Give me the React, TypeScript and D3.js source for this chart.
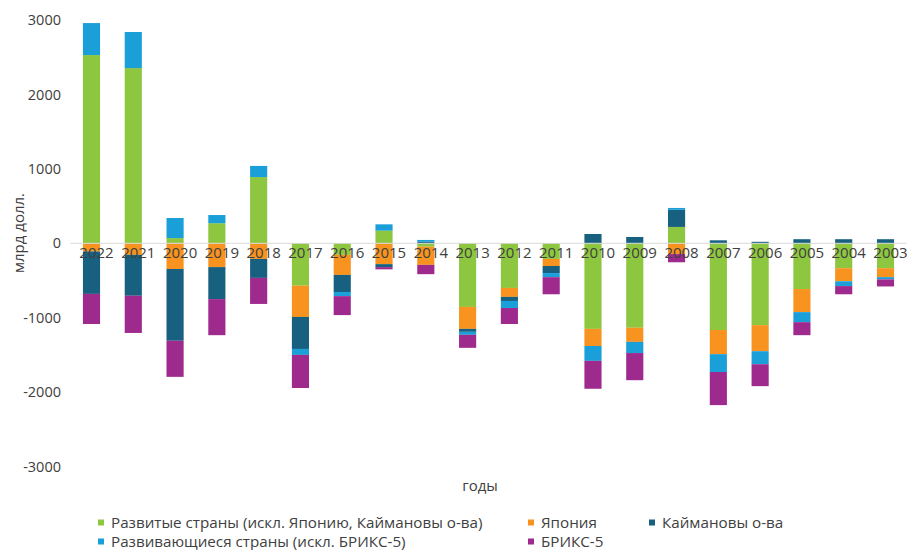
import React from "react";
import * as d3 from "d3";

// Years, newest first
const years = [
  "2022", "2021", "2020", "2019", "2018", "2017", "2016", "2015", "2014", "2013",
  "2012", "2011", "2010", "2009", "2008", "2007", "2006", "2005", "2004", "2003",
];

// Values, bn USD
const developed = [2530, 2355, 70, 270, 890, -570, -155, 170, -45, -855, -600, -210, -1150, -1135, 220, -1165, -1100, -615, -335, -335];
const japan = [-110, -155, -345, -320, -210, -420, -270, -280, -245, -295, -120, -95, -230, -190, -145, -325, -350, -310, -175, -120];
const cayman = [-570, -550, -965, -430, -255, -430, -230, -40, 20, -40, -55, -95, 125, 85, 230, 40, 20, 55, 55, 55];
const developing = [430, 485, 270, 110, 150, -80, -55, 85, 25, -40, -95, -55, -200, -150, 25, -240, -175, -135, -65, -30];
const brics = [-405, -500, -485, -485, -350, -445, -255, -30, -125, -175, -215, -230, -375, -365, -110, -445, -295, -175, -110, -95];

const yTicks = [3000, 2000, 1000, 0, -1000, -2000, -3000];

const seriesNames = [
  "Развитые страны (искл. Японию, Каймановы о-ва)",
  "Япония",
  "Каймановы о-ва",
  "Развивающиеся страны (искл. БРИКС-5)",
  "БРИКС-5",
];
const seriesKeys = ["developed", "japan", "cayman", "developing", "brics"];
const colors = ["#8DC63F", "#F7931E", "#17607F", "#1B9FD8", "#9E2A8E"];

const W = 907;
const H = 550;
const FONT = "'Open Sans', sans-serif";

export default function App() {
  const rows = years.map((y, i) => ({
    year: y,
    developed: developed[i],
    japan: japan[i],
    cayman: cayman[i],
    developing: developing[i],
    brics: brics[i],
  }));

  const stack = d3
    .stack<any>()
    .keys(seriesKeys)
    .order(d3.stackOrderNone)
    .offset(d3.stackOffsetDiverging);
  const stacked = stack(rows);

  const x = d3.scaleBand<string>().domain(years).range([70.6, 906.4]).paddingInner(0.59).paddingOuter(0.295);
  const y = d3.scaleLinear().domain([-3000, 3000]).range([466.5, 20.1]);

  const legendItems = [
    { i: 0, x: 98, y: 522.5 },
    { i: 1, x: 528, y: 522.5 },
    { i: 2, x: 649, y: 522.5 },
    { i: 3, x: 98, y: 541.5 },
    { i: 4, x: 528, y: 541.5 },
  ];

  return (
    <svg
      width={W}
      height={H}
      style={{ position: "absolute", left: 0, top: 0, background: "#fff" }}
      fontFamily={FONT}
    >
      {/* y tick labels */}
      {yTicks.map((t) => (
        <text
          key={t}
          x={61}
          y={y(t)}
          dy="0.35em"
          textAnchor="end"
          fontSize={14.5}
          fill="#404040"
        >
          {t}
        </text>
      ))}

      {/* y axis title */}
      <text
        transform={`translate(19,233) rotate(-90)`}
        textAnchor="middle"
        dy="0.35em"
        fontSize={15}
        fill="#404040"
      >
        млрд долл.
      </text>

      {/* bars */}
      {stacked.map((s, si) => (
        <g key={s.key} fill={colors[si]}>
          {s.map((d, di) => {
            const y0 = y(d[0]);
            const y1 = y(d[1]);
            const top = Math.min(y0, y1);
            const h = Math.abs(y1 - y0);
            if (h <= 0) return null;
            return (
              <rect
                key={di}
                x={x(d.data.year)}
                y={top}
                width={x.bandwidth()}
                height={h}
              />
            );
          })}
        </g>
      ))}

      {/* zero line */}
      <line x1={70.6} x2={906.4} y1={y(0)} y2={y(0)} stroke="#d9d9d9" strokeWidth={1} />

      {/* category labels */}
      {years.map((yr) => (
        <text
          key={yr}
          x={(x(yr) as number) + x.bandwidth() / 2 + 5}
          y={258}
          textAnchor="middle"
          fontSize={15}
          fill="#404040"
        >
          {yr}
        </text>
      ))}

      {/* x axis title */}
      <text x={480} y={491} textAnchor="middle" fontSize={15} fill="#404040">
        годы
      </text>

      {/* legend */}
      {legendItems.map((it) => (
        <g key={it.i}>
          <rect x={it.x} y={it.y - 3} width={6} height={6} fill={colors[it.i]} />
          <text x={it.x + 13} y={it.y} dy="0.35em" fontSize={15.2} fill="#404040">
            {seriesNames[it.i]}
          </text>
        </g>
      ))}
    </svg>
  );
}
